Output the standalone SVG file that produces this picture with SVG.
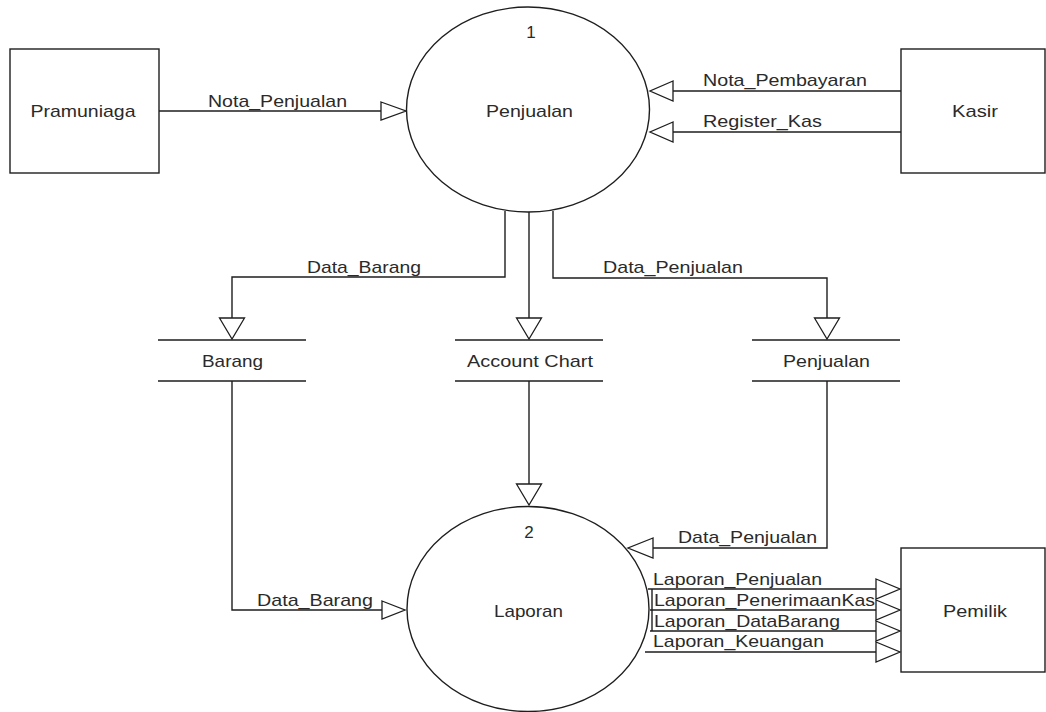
<svg xmlns="http://www.w3.org/2000/svg" width="1046" height="712" viewBox="0 0 1046 712">
<style>
.ln{fill:none;stroke:#1e1e1e;stroke-width:1.4}
.ar{fill:#fff;stroke:#1e1e1e;stroke-width:1.3;stroke-linejoin:miter}
.sh{fill:#fff;stroke:#1e1e1e;stroke-width:1.4}
text{font-family:"Liberation Sans",Arial,sans-serif;font-size:17px;fill:#2a2a2a}
.c{text-anchor:middle}
</style>
<rect width="1046" height="712" fill="#fff"/>
<g id="connectors">
  <!-- Pramuniaga -> Penjualan -->
  <path class="ln" d="M159 111H382"/>
  <polygon class="ar" points="381,102 406,111 381,120"/>
  <text x="208" y="107" textLength="139" lengthAdjust="spacingAndGlyphs">Nota_Penjualan</text>
  <!-- Kasir -> Penjualan -->
  <path class="ln" d="M901 91H673"/>
  <polygon class="ar" points="673,81 650,91 673,101"/>
  <text x="703" y="86" textLength="164" lengthAdjust="spacingAndGlyphs">Nota_Pembayaran</text>
  <path class="ln" d="M901 132H673"/>
  <polygon class="ar" points="673,122 650,132 673,142"/>
  <text x="703" y="127" textLength="119" lengthAdjust="spacingAndGlyphs">Register_Kas</text>
  <!-- Penjualan -> Barang -->
  <path class="ln" d="M505 211V277H232V319"/>
  <polygon class="ar" points="219.5,318 244.5,318 232,339"/>
  <text x="307" y="273" textLength="114" lengthAdjust="spacingAndGlyphs">Data_Barang</text>
  <!-- Penjualan -> Account Chart -->
  <path class="ln" d="M529 212V319"/>
  <polygon class="ar" points="516.5,318 541.5,318 529,339"/>
  <!-- Penjualan -> Penjualan store -->
  <path class="ln" d="M553 211V278H827V319"/>
  <polygon class="ar" points="814.5,318 839.5,318 827,339"/>
  <text x="603" y="273" textLength="140" lengthAdjust="spacingAndGlyphs">Data_Penjualan</text>
  <!-- Account Chart -> Laporan -->
  <path class="ln" d="M529 381V485"/>
  <polygon class="ar" points="516.5,484 541.5,484 529,505"/>
  <!-- Penjualan store -> Laporan -->
  <path class="ln" d="M827 381V548H653"/>
  <polygon class="ar" points="653,538 628,548 653,558"/>
  <text x="678" y="543" textLength="139" lengthAdjust="spacingAndGlyphs">Data_Penjualan</text>
  <!-- Barang -> Laporan -->
  <path class="ln" d="M232 381V610H382"/>
  <polygon class="ar" points="382,601 405,610 382,619"/>
  <text x="257" y="606" textLength="116" lengthAdjust="spacingAndGlyphs">Data_Barang</text>
  <!-- Laporan -> Pemilik -->
  <path class="ln" d="M648 589H877M650 610H877M650 631H877M645 652H877M652 589V631"/>
  <polygon class="ar" points="876,579 900,589 876,599"/>
  <polygon class="ar" points="876,600 900,610 876,620"/>
  <polygon class="ar" points="876,621 900,631 876,641"/>
  <polygon class="ar" points="876,642 900,652 876,662"/>
  <text x="653" y="585" textLength="169" lengthAdjust="spacingAndGlyphs">Laporan_Penjualan</text>
  <text x="654" y="606" textLength="221" lengthAdjust="spacingAndGlyphs">Laporan_PenerimaanKas</text>
  <text x="654" y="627" textLength="186" lengthAdjust="spacingAndGlyphs">Laporan_DataBarang</text>
  <text x="653" y="647" textLength="171" lengthAdjust="spacingAndGlyphs">Laporan_Keuangan</text>
</g>
<g id="pramuniaga">
  <rect class="sh" x="10" y="49" width="149" height="124"/>
  <text class="c" x="83" y="117" textLength="105" lengthAdjust="spacingAndGlyphs">Pramuniaga</text>
</g>
<g id="kasir">
  <rect class="sh" x="901" y="49" width="144" height="124"/>
  <text class="c" x="975" y="117" textLength="46" lengthAdjust="spacingAndGlyphs">Kasir</text>
</g>
<g id="pemilik">
  <rect class="sh" x="901" y="548" width="144" height="124"/>
  <text class="c" x="975" y="617" textLength="64" lengthAdjust="spacingAndGlyphs">Pemilik</text>
</g>
<g id="proses1">
  <ellipse class="sh" cx="528" cy="109.5" rx="121.5" ry="102.5"/>
  <text class="c" x="531" y="38">1</text>
  <text class="c" x="529.5" y="117" textLength="87" lengthAdjust="spacingAndGlyphs">Penjualan</text>
</g>
<g id="proses2">
  <ellipse class="sh" cx="528" cy="609" rx="121" ry="102.5"/>
  <text class="c" x="529" y="538">2</text>
  <text class="c" x="528.5" y="617" textLength="69" lengthAdjust="spacingAndGlyphs">Laporan</text>
</g>
<g id="store-barang">
  <path class="ln" d="M158 340H306M158 381H306"/>
  <text class="c" x="232.5" y="367" textLength="61" lengthAdjust="spacingAndGlyphs">Barang</text>
</g>
<g id="store-account">
  <path class="ln" d="M455 340H603M455 381H603"/>
  <text class="c" x="530" y="367" textLength="126" lengthAdjust="spacingAndGlyphs">Account Chart</text>
</g>
<g id="store-penjualan">
  <path class="ln" d="M752 340H900M752 381H900"/>
  <text class="c" x="826.5" y="367" textLength="87" lengthAdjust="spacingAndGlyphs">Penjualan</text>
</g>
</svg>
